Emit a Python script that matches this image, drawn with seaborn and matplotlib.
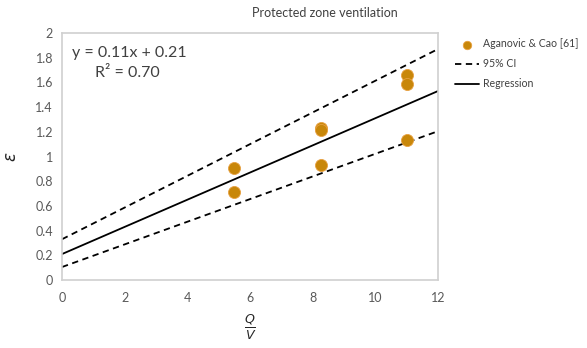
import matplotlib
matplotlib.use("Agg")
import matplotlib.pyplot as plt
import seaborn as sns
import numpy as np
import pandas as pd

# Data
qv = [5.5, 5.5, 8.25, 8.25, 8.25, 11.0, 11.0, 11.0]
eps = [0.91, 0.71, 1.23, 1.215, 0.93, 1.66, 1.585, 1.135]
line_x = [0, 12]
reg_y = [0.21, 1.53]
ci_upper = [0.33, 1.87]
ci_lower = [0.105, 1.205]
xticks = [0, 2, 4, 6, 8, 10, 12]
yticks = [0, 0.2, 0.4, 0.6, 0.8, 1, 1.2, 1.4, 1.6, 1.8, 2]
ytick_labels = ["0", "0.2", "0.4", "0.6", "0.8", "1", "1.2", "1.4", "1.6", "1.8", "2"]

sns.set_style("white")
plt.rcParams['font.family'] = ['Lato', 'DejaVu Sans']

fig = plt.figure(figsize=(5.87, 3.48), dpi=100)
ax = fig.add_axes([62/587, 1 - 280/348, 376/587, 247/348])

pts = pd.DataFrame({"x": qv, "y": eps})
ci_df = pd.DataFrame({"x": line_x * 2, "y": ci_upper + ci_lower, "g": ["u", "u", "l", "l"]})
reg_df = pd.DataFrame({"x": line_x, "y": reg_y})

sns.lineplot(data=ci_df[ci_df.g == "u"], x="x", y="y", ax=ax, color="black",
             linestyle=(0, (3.5, 2.5)), linewidth=1.3, label="95% CI")
sns.lineplot(data=ci_df[ci_df.g == "l"], x="x", y="y", ax=ax, color="black",
             linestyle=(0, (3.5, 2.5)), linewidth=1.3, label="_nolegend_")
sns.lineplot(data=reg_df, x="x", y="y", ax=ax, color="black", linewidth=1.3, label="Regression")
sns.scatterplot(data=pts, x="x", y="y", ax=ax, color="#C8870A", s=75, edgecolor="#E8A040",
                linewidth=0.6, label="Aganovic & Cao [61]", zorder=5)

ax.set_xlim(0, 12)
ax.set_ylim(0, 2)
ax.set_xticks(xticks)
ax.set_yticks(yticks)
ax.set_yticklabels(ytick_labels)
ax.tick_params(axis='both', colors="#595959", labelsize=9, length=3, width=0.8, direction='out')
ax.tick_params(axis='x', pad=6)
for s in ax.spines.values():
    s.set_color("#D0D0D0")
    s.set_linewidth(1.2)
ax.set_xlabel(r"$\frac{Q}{V}$", fontsize=13, labelpad=6)
ax.set_ylabel(r"$\varepsilon$", fontsize=12, labelpad=12)

ax.text(0.32, 1.84, "y = 0.11x + 0.21", fontsize=11.5, color="#404040", va="center")
ax.text(1.05, 1.68, "R² = 0.70", fontsize=11.5, color="#404040", va="center")

fig.text(325/587, 1 - 13/348, "Protected zone ventilation", ha="center", va="center",
         fontsize=9, color="#404040")

handles, labels = ax.get_legend_handles_labels()
order = [labels.index("Aganovic & Cao [61]"), labels.index("95% CI"), labels.index("Regression")]
leg = ax.legend([handles[i] for i in order], [labels[i] for i in order],
                loc="upper left", bbox_to_anchor=(1.03, 1.0), frameon=False,
                fontsize=7.6, handlelength=2.3, handletextpad=0.35, borderaxespad=0.1,
                labelspacing=0.85, markerscale=0.7)
for t in leg.get_texts():
    t.set_color("#404040")

fig.savefig("out.png", dpi=100)
